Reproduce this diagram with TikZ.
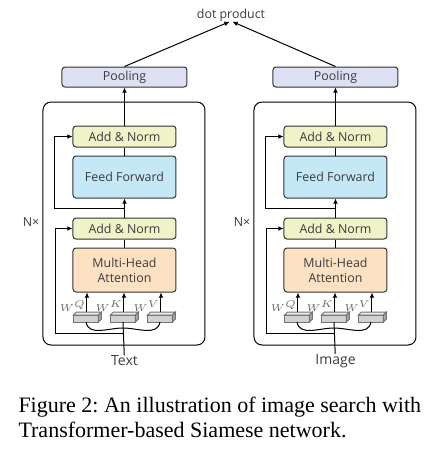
\documentclass[tikz,border=0pt]{standalone}
\usepackage{fontspec}
\setmainfont{Liberation Serif}
\setsansfont{Open Sans}
\usetikzlibrary{arrows.meta}

\definecolor{poolfill}{RGB}{220,224,242}
\definecolor{normfill}{RGB}{240,242,200}
\definecolor{fffill}{RGB}{197,232,246}
\definecolor{attfill}{RGB}{252,226,194}
\definecolor{txtgray}{RGB}{60,60,60}

\tikzset{
  arr/.style = {-{Latex[length=2.6pt,width=2.4pt]}},
  block/.style = {draw=black!80, line width=0.5pt, rounded corners=1.5pt,
    minimum width=51.5pt, text=txtgray, inner sep=0pt,
    font=\sffamily\fontsize{6.2}{7.4}\selectfont, align=center},
  addnorm/.style = {block, fill=normfill, minimum height=10.5pt},
  ffbox/.style = {block, fill=fffill, minimum height=21pt},
  attbox/.style = {block, fill=attfill, minimum height=22pt},
  poolbox/.style = {block, fill=poolfill, minimum width=62.5pt, minimum height=10pt},
  lbl/.style = {text=txtgray, inner sep=0pt, font=\sffamily\fontsize{6.2}{7.4}\selectfont}
}

\begin{document}
\begin{tikzpicture}[x=0.5pt, y=-0.5pt, line width=0.5pt]
\useasboundingbox (0,0) rectangle (445,463);

\node (dot) [lbl] at (231,15) {dot product};

\foreach \s/\dx/\inp in {L/0/Text, R/211/Image} {
  % encoder frame
  \draw[rounded corners=4pt] (43+\dx,102) rectangle (205+\dx,345);
  \node (nx\s) [lbl] at (31+\dx,222) {N×};
  \node (pool\s) [poolbox] at (124.5+\dx,77) {Pooling};
  \node (an1\s) [addnorm] at (124.5+\dx,136.5) {Add \& Norm};
  \node (ff\s) [ffbox] at (124.5+\dx,177) {Feed Forward};
  \node (an2\s) [addnorm] at (124.5+\dx,228.5) {Add \& Norm};
  \node (mha\s) [attbox] at (124.5+\dx,270) {Multi-Head\\Attention};
  \node (in\s) [lbl, font=\sffamily\fontsize{7}{8}\selectfont] at (124.5+\dx,361) {\inp};
  % projection boxes
  \foreach \w/\bx/\lab in {q/86/Q, k/123/K, v/160/V} {
    \draw[draw=black!55, fill=black!18] (\bx-12.5+\dx,315) rectangle (\bx+12.5+\dx,322);
    \draw[draw=black!55, fill=black!8] (\bx-12.5+\dx,315) -- (\bx-9.5+\dx,312)
      -- (\bx+15.5+\dx,312) -- (\bx+12.5+\dx,315) -- cycle;
    \draw[draw=black!55, fill=black!35] (\bx+12.5+\dx,315) -- (\bx+15.5+\dx,312)
      -- (\bx+15.5+\dx,319) -- (\bx+12.5+\dx,322) -- cycle;
    \coordinate (w\w\s) at (\bx+1+\dx,312);
    \coordinate (wb\w\s) at (\bx+\dx,322);
    \node (lab\w\s) [anchor=east, inner sep=0pt, text=black!60,
      font=\fontsize{4.6}{5.5}\selectfont] at (\bx+0.5+\dx,306) {$W^{\lab}$};
    \draw[arr] (w\w\s) -- (w\w\s |- mha\s.south);
  }
  \coordinate (mid\s) at (123+\dx,328);
  \draw (wbq\s) to[out=-80, in=180] (mid\s) to[out=0, in=-100] (wbv\s);
  \draw (in\s) -- (wbk\s);
  % residual paths
  \coordinate (r2\s) at (123+\dx,333);
  \coordinate (c2\s) at (56+\dx,333);
  \draw[arr] (r2\s) -- (c2\s) |- (an2\s.west);
  \coordinate (r1\s) at (124.5+\dx,208);
  \coordinate (c1\s) at (55+\dx,208);
  \draw[arr] (r1\s) -- (c1\s) |- (an1\s.west);
  % main flow
  \draw (mha\s) -- (an2\s);
  \draw[arr] (an2\s) -- (ff\s);
  \draw (ff\s) -- (an1\s);
  \draw[arr] (an1\s) -- (pool\s);
}

\draw[arr] (poolL.north) -- ([xshift=-0.7pt]dot.south);
\draw[arr] (poolR.north) -- ([xshift=0.7pt]dot.south);

\node (cap) [anchor=north west, align=left, inner sep=0pt,
  font=\fontsize{11}{12.5}\selectfont] at (18,397)
  {Figure 2:\ An illustration of image search with\\Transformer-based Siamese network.};
\end{tikzpicture}
\end{document}
